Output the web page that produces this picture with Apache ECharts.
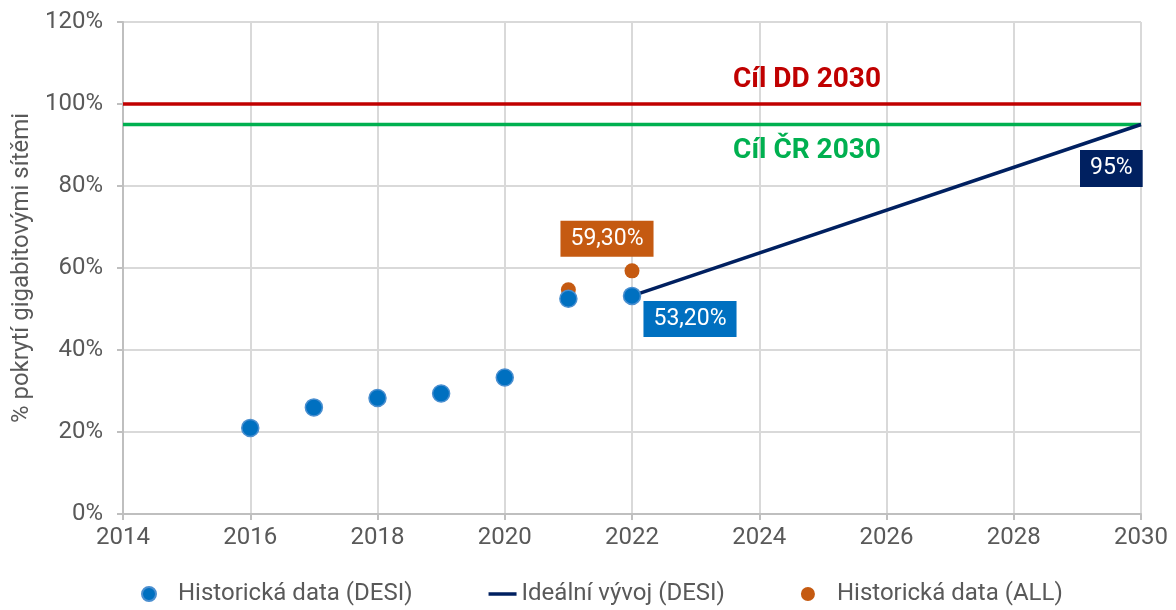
<!DOCTYPE html>
<html>
<head>
<meta charset="utf-8">
<script src="https://cdn.jsdelivr.net/npm/echarts@6/dist/echarts.min.js"></script>
<style>
  html, body { margin: 0; padding: 0; background: #fff; }
  #chart { width: 1176px; height: 610px; }
</style>
</head>
<body>
<div id="chart"></div>
<script>
// roky a hodnoty
var desiYears = [2016, 2017, 2018, 2019, 2020, 2021, 2022];
var desiValues = [21.0, 26.0, 28.3, 29.4, 33.3, 52.5, 53.2];
var allYears = [2021, 2022];
var allValues = [54.7, 59.3];
var idealYears = [2022, 2030];
var idealValues = [53.2, 95];
var targetDD = 100;
var targetCR = 95;

var font = 'Roboto, "Noto Sans", sans-serif';

function pairs(xs, ys) {
    return xs.map(function (x, i) { return [x, ys[i]]; });
}

function boxLabel(bg, offset, text) {
    return {
        show: true,
        position: 'inside',
        offset: offset,
        formatter: text,
        color: '#fff',
        backgroundColor: bg,
        fontFamily: font,
        fontSize: 23,
        padding: [7, 10, 6, 10]
    };
}

var desiData = pairs(desiYears, desiValues).map(function (p, i) {
    var item = { value: p };
    if (i === desiYears.length - 1) {
        item.label = boxLabel('#0070c0', [58, 23], '53,20%');
    }
    return item;
});

var allData = pairs(allYears, allValues).map(function (p, i) {
    var item = { value: p };
    if (i === allYears.length - 1) {
        item.label = boxLabel('#c55a11', [-25, -32], '59,30%');
    }
    return item;
});

var option = {
    animation: false,
    textStyle: { fontFamily: font },
    grid: {
        left: 123,
        right: 35,
        top: 22,
        bottom: 96
    },
    legend: {
        top: 577,
        left: 136,
        itemGap: 76,
        itemWidth: 28,
        itemHeight: 14,
        textStyle: {
            fontFamily: font,
            fontSize: 24,
            color: '#595959'
        },
        data: [
            {
                name: 'Historická data (DESI)', icon: 'circle',
                itemStyle: { color: '#0070c0' },
                textStyle: { padding: [0, 0, 0, 10] }
            },
            {
                name: 'Ideální vývoj (DESI)', icon: 'path://M0,0h28v3.5h-28z',
                itemStyle: { color: '#002060' },
                textStyle: { width: 206 }
            },
            {
                name: 'Historická data (ALL)', icon: 'circle',
                itemStyle: { color: '#c55a11' },
                textStyle: { padding: [0, 0, 0, 10] }
            }
        ]
    },
    xAxis: {
        type: 'value',
        min: 2014,
        max: 2030,
        interval: 2,
        axisLine: { show: true, lineStyle: { color: '#bfbfbf', width: 2 } },
        axisTick: { show: true, length: 6, lineStyle: { color: '#bfbfbf', width: 2 } },
        axisLabel: {
            fontFamily: font,
            fontSize: 24,
            color: '#595959',
            margin: 12,
            formatter: function (v) { return String(v); }
        },
        splitLine: { show: true, lineStyle: { color: '#d9d9d9', width: 2 } }
    },
    yAxis: {
        type: 'value',
        min: 0,
        max: 120,
        interval: 20,
        name: '% pokrytí gigabitovými sítěmi',
        nameLocation: 'middle',
        nameGap: 88,
        nameTextStyle: {
            fontFamily: font,
            fontSize: 24,
            color: '#595959'
        },
        axisLine: { show: true, lineStyle: { color: '#bfbfbf', width: 2 } },
        axisTick: { show: true, length: 6, lineStyle: { color: '#bfbfbf', width: 2 } },
        axisLabel: {
            fontFamily: font,
            fontSize: 24,
            color: '#595959',
            margin: 20,
            formatter: '{value}%'
        },
        splitLine: { show: true, lineStyle: { color: '#d9d9d9', width: 2 } }
    },
    series: [
        {
            name: 'Cíl DD 2030',
            type: 'line',
            data: [[2014, targetDD], [2030, targetDD]],
            symbol: 'none',
            lineStyle: { color: '#c00000', width: 3.5 },
            z: 3,
            markPoint: {
                symbol: 'circle',
                symbolSize: 0,
                data: [{ coord: [2024.75, targetDD] }],
                label: {
                    show: true,
                    formatter: 'Cíl DD 2030',
                    offset: [0, -24],
                    color: '#c00000',
                    fontWeight: 'bold',
                    fontSize: 28,
                    fontFamily: font
                }
            }
        },
        {
            name: 'Cíl ČR 2030',
            type: 'line',
            data: [[2014, targetCR], [2030, targetCR]],
            symbol: 'none',
            lineStyle: { color: '#00b050', width: 3.5 },
            z: 3,
            markPoint: {
                symbol: 'circle',
                symbolSize: 0,
                data: [{ coord: [2024.75, targetCR] }],
                label: {
                    show: true,
                    formatter: 'Cíl ČR 2030',
                    offset: [0, 26],
                    color: '#00b050',
                    fontWeight: 'bold',
                    fontSize: 28,
                    fontFamily: font
                }
            }
        },
        {
            name: 'Ideální vývoj (DESI)',
            type: 'line',
            data: pairs(idealYears, idealValues),
            symbol: 'none',
            lineStyle: { color: '#002060', width: 3.5 },
            itemStyle: { color: '#002060' },
            z: 4,
            endLabel: {
                show: true,
                formatter: '95%',
                offset: [-69, 44],
                color: '#fff',
                backgroundColor: '#002060',
                fontFamily: font,
                fontSize: 23,
                padding: [7, 10, 7, 10]
            }
        },
        {
            name: 'Historická data (ALL)',
            type: 'scatter',
            data: allData,
            symbolSize: 15,
            itemStyle: { color: '#c55a11', opacity: 1 },
            z: 5
        },
        {
            name: 'Historická data (DESI)',
            type: 'scatter',
            data: desiData,
            symbolSize: 17,
            itemStyle: { color: '#0070c0', borderColor: '#4a8fd0', borderWidth: 1.5, opacity: 1 },
            z: 6
        }
    ]
};

var chart = echarts.init(document.getElementById('chart'));
chart.setOption(option);
window.onresize = function () { chart.resize(); };
</script>
</body>
</html>
